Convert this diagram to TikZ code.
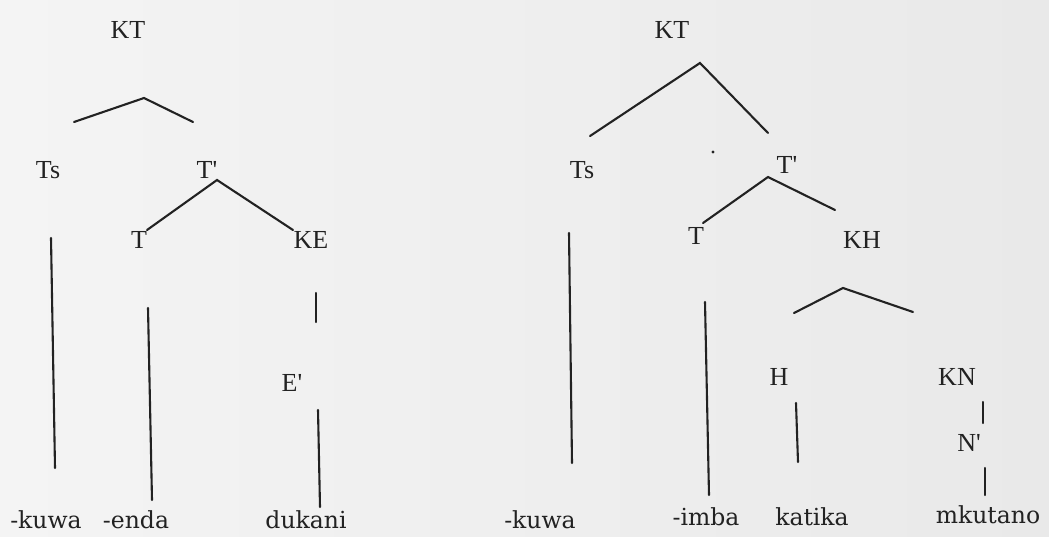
\documentclass[tikz,border=0pt]{standalone}
\usepackage{fontspec}
\setmainfont{Liberation Serif}
\newfontfamily\wordfont{DejaVu Serif}
\usetikzlibrary{calc}
\definecolor{ink}{HTML}{222222}
\definecolor{paperL}{HTML}{F4F4F4}
\definecolor{paperR}{HTML}{E9E9E9}
\newcommand{\pr}{\textquotesingle}
\tikzset{
  cat/.style={inner sep=0pt, text=ink, font=\fontsize{26}{26}\selectfont},
  word/.style={inner sep=0pt, text=ink, font=\wordfont\fontsize{23.5}{23.5}\selectfont},
  branch/.style={draw=ink, line width=2.1pt, line cap=round},
}
\begin{document}
\begin{tikzpicture}[x=1pt,y=-1pt]
  \shade[left color=paperL, right color=paperR] (0,0) rectangle (1049,536);
  \useasboundingbox (0,0) rectangle (1049,536);

  % ---------- left tree ----------
  \node[cat] (ktA) at (128,30) {KT};
  \node[cat] (tsA) at (48,170) {Ts};
  \node[cat] (tpA) at (207,170) {T\pr};
  \node[cat] (tA)  at (139,240) {T};
  \node[cat] (ke)  at (311,240) {KE};
  \node[cat] (ep)  at (292,383) {E\pr};
  \node[word] (kuwaA) at (46,520) {-kuwa};
  \node[word] (enda)  at (136,520) {-enda};
  \node[word] (dukani) at (306,520) {dukani};

  \coordinate (ktAl) at (74,122);
  \coordinate (ktAp) at (144,98);
  \coordinate (ktAr) at (193,122);
  \draw[branch] (ktAl) -- (ktAp) -- (ktAr);

  \coordinate (tpAp) at (217,180);
  \coordinate (tpAl) at (147,230);
  \coordinate (tpAr) at (293,230);
  \draw[branch] (tpAl) -- (tpAp) -- (tpAr);

  \coordinate (tsAa) at (51,238);  \coordinate (tsAb) at (55,468);
  \draw[branch] (tsAa) -- (tsAb);
  \coordinate (tAa) at (148,308);  \coordinate (tAb) at (152,500);
  \draw[branch] (tAa) -- (tAb);
  \coordinate (kea) at (316,293);  \coordinate (keb) at (316,322);
  \draw[branch] (kea) -- (keb);
  \coordinate (epa) at (318,410);  \coordinate (epb) at (320,507);
  \draw[branch] (epa) -- (epb);

  % ---------- right tree ----------
  \node[cat] (ktB) at (672,30) {KT};
  \node[cat] (tsB) at (582,170) {Ts};
  \node[cat] (tpB) at (787,165) {T\pr};
  \node[cat] (tB)  at (696,236) {T};
  \node[cat] (kh)  at (862,240) {KH};
  \node[cat] (hh)  at (779,377) {H};
  \node[cat] (kn)  at (957,377) {KN};
  \node[cat] (np)  at (969,443) {N\pr};
  \node[word] (kuwaB) at (540,520) {-kuwa};
  \node[word] (imba)  at (706,517) {-imba};
  \node[word] (katika) at (812,517) {katika};
  \node[word] (mkutano) at (988,515) {mkutano};

  \fill[ink] (713,152) circle (1.6);

  \coordinate (ktBl) at (590,136);
  \coordinate (ktBp) at (700,63);
  \coordinate (ktBr) at (768,133);
  \draw[branch] (ktBl) -- (ktBp) -- (ktBr);

  \coordinate (tpBp) at (768,177);
  \coordinate (tpBl) at (703,223);
  \coordinate (tpBr) at (835,210);
  \draw[branch] (tpBl) -- (tpBp) -- (tpBr);

  \coordinate (khl) at (794,313);
  \coordinate (khp) at (843,288);
  \coordinate (khr) at (913,312);
  \draw[branch] (khl) -- (khp) -- (khr);

  \coordinate (tsBa) at (569,233); \coordinate (tsBb) at (572,463);
  \draw[branch] (tsBa) -- (tsBb);
  \coordinate (tBa) at (705,302);  \coordinate (tBb) at (709,495);
  \draw[branch] (tBa) -- (tBb);
  \coordinate (hha) at (796,403);  \coordinate (hhb) at (798,462);
  \draw[branch] (hha) -- (hhb);
  \coordinate (kna) at (983,402);  \coordinate (knb) at (983,423);
  \draw[branch] (kna) -- (knb);
  \coordinate (npa) at (985,468);  \coordinate (npb) at (985,495);
  \draw[branch] (npa) -- (npb);
\end{tikzpicture}
\end{document}
